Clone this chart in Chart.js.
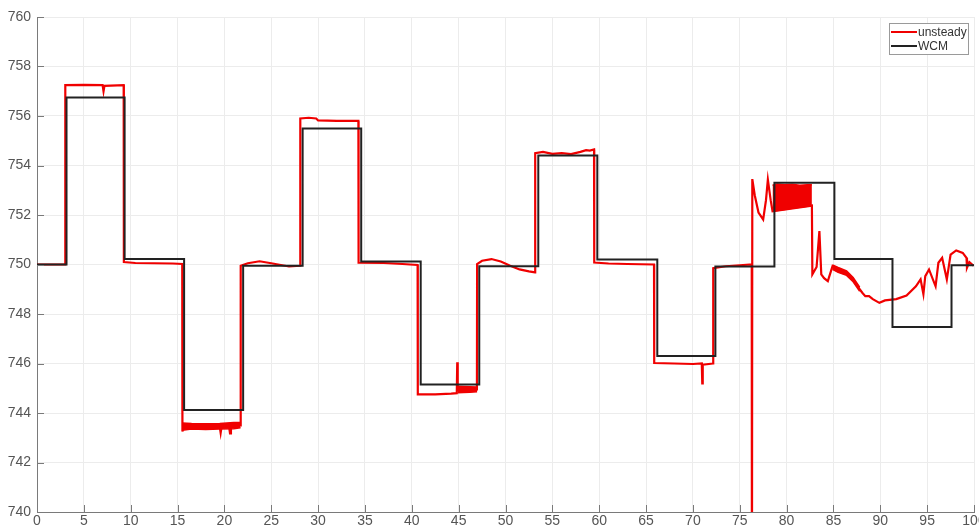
<!DOCTYPE html>
<html>
<head>
<meta charset="utf-8">
<script src="https://cdn.jsdelivr.net/npm/chart.js@4/dist/chart.umd.min.js"></script>
<style>
  html, body { margin: 0; padding: 0; background: #fff; overflow: hidden; }
  #wrap { width: 979px; height: 529px; }
</style>
</head>
<body>
<div id="wrap"><canvas id="c" width="979" height="529"></canvas></div>
<script>
// Measured head trace (unsteady simulation)
const unsteadyX = [
  0, 3.0, 3.02, 5.0, 7.0, 7.1, 7.2, 9.25, 9.27, 10.5, 12.5, 14.5, 15.5,
  15.52, 15.6, 17.0, 19.5, 19.6, 19.7, 20.5, 20.6, 20.7, 21.72,
  21.74, 22.5, 23.75, 25.0, 26.9, 28.08,
  28.1, 29.0, 29.8, 30.0, 32.0, 34.3,
  34.32, 37.0, 39.0, 40.62,
  40.64, 42.5, 44.2, 44.8, 44.85, 44.9, 46.95,
  46.97, 47.5, 48.5, 49.5, 50.5, 51.5, 52.5, 53.15,
  53.17, 54.0, 55.0, 56.0, 57.0, 58.0, 58.6, 59.0, 59.45,
  59.47, 61.0, 63.0, 65.85,
  65.87, 68.0, 70.0, 70.95, 71.0, 71.05, 72.15,
  72.17, 73.5, 75.0, 76.28, 76.3,
  76.34, 76.6, 77.0, 77.5, 77.8, 78.0, 78.3, 78.5, 82.7,
  82.75, 83.2, 83.5, 83.7, 84.0, 84.4, 84.9, 85.3, 86.4, 87.1, 87.8, 88.1, 88.4, 88.8, 89.2, 89.9, 90.5,
  91.7, 92.8, 93.8, 94.3, 94.6, 94.8, 95.2, 95.9, 96.2, 96.6, 97.1, 97.5, 98.1, 98.8, 99.2, 99.25, 99.5, 99.95
];
const unsteadyY = [
  750.0, 750.0, 757.25, 757.26, 757.25, 757.0, 757.22, 757.25, 750.1, 750.06, 750.05, 750.04, 750.02,
  743.25, 743.45, 743.45, 743.45, 743.2, 743.45, 743.45, 743.18, 743.45, 743.5,
  749.95, 750.05, 750.13, 750.05, 749.92, 749.95,
  755.9, 755.93, 755.9, 755.82, 755.8, 755.8,
  750.07, 750.06, 750.02, 749.98,
  744.75, 744.75, 744.78, 744.8, 746.05, 744.9, 744.95,
  750.02, 750.15, 750.22, 750.12, 749.95, 749.8, 749.72, 749.68,
  754.5, 754.55, 754.47, 754.5, 754.46, 754.55, 754.62, 754.6, 754.65,
  750.08, 750.04, 750.02, 750.0,
  746.02, 746.0, 745.98, 746.0, 745.2, 745.95, 746.0,
  749.85, 749.93, 749.97, 750.0, 735.0,
  753.45, 752.8, 752.1, 751.82, 752.6, 753.43, 752.6, 752.15, 752.38,
  749.6, 749.9, 751.35, 749.6, 749.45, 749.33, 749.93, 749.8, 749.66, 749.4, 749.0, 748.85, 748.72, 748.72, 748.6, 748.45, 748.55,
  748.6, 748.75, 749.12, 749.4, 748.8, 749.53, 749.8, 749.12, 750.07, 750.27, 749.4, 750.4, 750.57, 750.47, 750.27, 749.87, 750.1, 749.95
];

// Envelopes of the fast oscillations in the unsteady trace
const bandAX = [15.5, 16.5, 18.0, 19.5, 21.0, 21.72];
const bandATop = [743.6, 743.58, 743.57, 743.58, 743.62, 743.62];
const bandABottom = [743.3, 743.35, 743.33, 743.35, 743.36, 743.4];

const bandBX = [44.9, 45.5, 46.2, 46.97];
const bandBTop = [745.08, 745.07, 745.06, 745.05];
const bandBBottom = [744.82, 744.83, 744.84, 744.86];

const bandCX = [78.5, 79.0, 79.8, 80.6, 81.4, 82.2, 82.7];
const bandCTop = [753.2, 753.25, 753.22, 753.24, 753.2, 753.22, 753.22];
const bandCBottom = [752.15, 752.18, 752.22, 752.27, 752.31, 752.35, 752.38];

const bandDX = [84.9, 85.5, 86.4, 87.1, 87.8];
const bandDTop = [749.98, 749.88, 749.74, 749.48, 749.08];
const bandDBottom = [749.8, 749.68, 749.56, 749.3, 748.92];

// WCM model: level held from each switch time until the next one
const wcmX = [0, 3.15, 9.35, 15.7, 22.0, 28.35, 34.6, 40.95, 47.2, 53.5, 59.8, 66.2, 72.4, 78.7, 85.1, 91.3, 97.6, 100];
const wcmY = [750.0, 756.75, 750.22, 744.12, 749.95, 755.5, 750.12, 745.15, 749.93, 754.4, 750.2, 746.3, 749.92, 753.3, 750.22, 747.47, 749.97, 749.97];

// Axis ticks
const xTicks = [0, 5, 10, 15, 20, 25, 30, 35, 40, 45, 50, 55, 60, 65, 70, 75, 80, 85, 90, 95, 100];
const yTicks = [740, 742, 744, 746, 748, 750, 752, 754, 756, 758, 760];

const RED = '#f00000';
const BLACK = '#222222';

const legendItems = [
  { label: 'unsteady', color: RED },
  { label: 'WCM', color: BLACK }
];

const FONT = '"Liberation Sans", Arial, Helvetica, sans-serif';
const AXIS_COLOR = '#7a7a7a';

const toPoints = (xs, ys) => xs.map((x, i) => ({ x: x, y: ys[i] }));

function bandPair(xs, top, bottom) {
  return [
    { data: toPoints(xs, top), borderColor: RED, borderWidth: 1.5, pointRadius: 0,
      backgroundColor: RED, fill: '+1', order: 2 },
    { data: toPoints(xs, bottom), borderColor: RED, borderWidth: 1.5, pointRadius: 0,
      fill: false, order: 2 }
  ];
}

// Inward tick marks along the left and bottom axes
const inwardTicks = {
  id: 'inwardTicks',
  afterDatasetsDraw(chart) {
    const { ctx, chartArea, scales } = chart;
    ctx.save();
    ctx.strokeStyle = AXIS_COLOR;
    ctx.lineWidth = 1;
    ctx.beginPath();
    xTicks.forEach(v => {
      const px = Math.round(scales.x.getPixelForValue(v)) + 0.5;
      ctx.moveTo(px, chartArea.bottom);
      ctx.lineTo(px, chartArea.bottom - 7);
    });
    yTicks.forEach(v => {
      const py = Math.round(scales.y.getPixelForValue(v)) + 0.5;
      ctx.moveTo(chartArea.left, py);
      ctx.lineTo(chartArea.left + 7, py);
    });
    ctx.stroke();
    ctx.restore();
  }
};

// Boxed legend in the upper right corner of the plot
const boxLegend = {
  id: 'boxLegend',
  afterDraw(chart) {
    const { ctx, chartArea } = chart;
    const right = chartArea.right - 6;
    const w = 79, h = 31;
    const left = right - w, top = chartArea.top + 6;
    ctx.save();
    ctx.fillStyle = '#ffffff';
    ctx.fillRect(left, top, w, h);
    ctx.strokeStyle = '#9a9a9a';
    ctx.lineWidth = 1;
    ctx.strokeRect(Math.round(left) + 0.5, Math.round(top) + 0.5, w, h);
    ctx.font = '12px ' + FONT;
    ctx.textBaseline = 'middle';
    legendItems.forEach((item, i) => {
      const y = top + 9 + i * 14;
      ctx.strokeStyle = item.color;
      ctx.lineWidth = 2;
      ctx.beginPath();
      ctx.moveTo(left + 2, y);
      ctx.lineTo(left + 28, y);
      ctx.stroke();
      ctx.fillStyle = '#333333';
      ctx.fillText(item.label, left + 29, y + 0.5);
    });
    ctx.restore();
  }
};

new Chart(document.getElementById('c'), {
  type: 'line',
  data: {
    datasets: [
      {
        label: 'unsteady',
        data: toPoints(unsteadyX, unsteadyY),
        borderColor: RED,
        borderWidth: 2.2,
        pointRadius: 0,
        tension: 0,
        fill: false,
        order: 2
      },
      ...bandPair(bandAX, bandATop, bandABottom),
      ...bandPair(bandBX, bandBTop, bandBBottom),
      ...bandPair(bandCX, bandCTop, bandCBottom),
      ...bandPair(bandDX, bandDTop, bandDBottom),
      {
        label: 'WCM',
        data: toPoints(wcmX, wcmY),
        borderColor: BLACK,
        borderWidth: 2,
        pointRadius: 0,
        stepped: true,
        fill: false,
        order: 1
      }
    ]
  },
  options: {
    responsive: false,
    animation: false,
    events: [],
    layout: { padding: { top: 17, right: 5, left: 0, bottom: 0 } },
    plugins: {
      legend: { display: false },
      tooltip: { enabled: false },
      filler: { propagate: false }
    },
    scales: {
      x: {
        type: 'linear',
        min: 0,
        max: 100,
        afterBuildTicks(scale) { scale.ticks = xTicks.map(v => ({ value: v })); },
        afterFit(scale) { scale.height = 17; scale.paddingLeft = 0; scale.paddingRight = 0; },
        ticks: {
          color: '#555555',
          font: { family: FONT, size: 14 },
          padding: 1,
          maxRotation: 0,
          autoSkip: false
        },
        grid: { color: '#ececec', lineWidth: 1, drawTicks: false },
        border: { color: AXIS_COLOR, width: 1 }
      },
      y: {
        type: 'linear',
        min: 740,
        max: 760,
        afterBuildTicks(scale) { scale.ticks = yTicks.map(v => ({ value: v })); },
        afterFit(scale) { scale.width = 37; scale.paddingTop = 0; scale.paddingBottom = 0; },
        ticks: {
          color: '#555555',
          font: { family: FONT, size: 14 },
          padding: 6,
          autoSkip: false
        },
        grid: { color: '#ececec', lineWidth: 1, drawTicks: false },
        border: { color: AXIS_COLOR, width: 1 }
      }
    }
  },
  plugins: [inwardTicks, boxLegend]
});
</script>
</body>
</html>
